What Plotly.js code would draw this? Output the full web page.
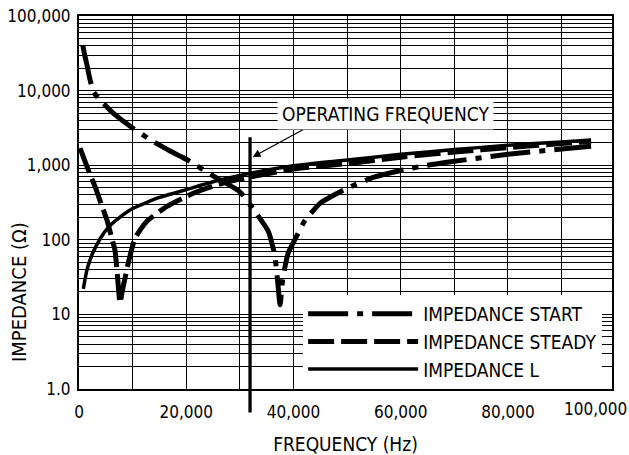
<!DOCTYPE html>
<html>
<head>
<meta charset="utf-8">
<script src="https://cdn.plot.ly/plotly-3.0.1.min.js"></script>
<style>html,body{margin:0;padding:0;background:#fff;}#chart{width:629px;height:455px;}</style>
</head>
<body>
<div id="chart"></div>
<script>
// ---- data ----
const freqStart = [700, 1000, 1500, 2000, 2700, 4500, 6500, 10000, 13500, 17000, 20000, 25000, 30000, 33000, 35300, 36500, 37000, 37500, 38000, 39000, 40600, 42000, 45000, 50000, 55000, 60000, 65000, 70000, 80000, 90000, 95500];
const impStart  = [40700, 31500, 21900, 14600, 9600, 6800, 4900, 3150, 2150, 1550, 1200, 720, 440, 230, 130, 62, 30, 13.5, 30, 66, 112, 175, 310, 490, 690, 850, 1000, 1130, 1400, 1650, 1800];

const freqSteady = [200, 1000, 2000, 3000, 4200, 5200, 6000, 6700, 7200, 7650, 8100, 9200, 10450, 12600, 16400, 21300, 25700, 30000, 40000, 50000, 60000, 70000, 80000, 90000, 95500];
const impSteady  = [1700, 1185, 774, 515, 293, 185, 113, 73, 31, 14.2, 21, 49, 105, 175, 280, 420, 545, 650, 890, 1050, 1280, 1500, 1720, 1950, 2080];

const freqL = [800, 1500, 2500, 4000, 5500, 7000, 10000, 15000, 20000, 25000, 30000, 40000, 50000, 60000, 70000, 80000, 90000, 95500];
const impL  = [22, 40, 65, 105, 148, 185, 262, 370, 470, 600, 730, 980, 1170, 1400, 1620, 1850, 2050, 2170];

const operatingFreq = 31900;
const arrowTip = {x: 32400, y: 1290};
const xTickVals = [0, 10000, 20000, 30000, 40000, 50000, 60000, 70000, 80000, 90000];
const xTickText = ['0', '', '20,000', '', '40,000', '', '60,000', '', '80,000', ''];

const FONT = 'DejaVu Sans Condensed, Liberation Sans Narrow, sans-serif';

const traces = [
  {x: freqStart, y: impStart, name: 'IMPEDANCE START', mode: 'lines',
   line: {color: '#000', width: 5, dash: '40px,9px,6px,9px', shape: 'spline', smoothing: 0.5}},
  {x: freqSteady, y: impSteady, name: 'IMPEDANCE STEADY', mode: 'lines',
   line: {color: '#000', width: 5, dash: '26px,7px', shape: 'spline', smoothing: 0.5}},
  {x: freqL, y: impL, name: 'IMPEDANCE L', mode: 'lines',
   line: {color: '#000', width: 3.5, shape: 'spline', smoothing: 0.5}}
];

const layout = {
  width: 629, height: 455,
  margin: {l: 79, r: 17, t: 16, b: 66},
  paper_bgcolor: '#fff', plot_bgcolor: '#fff',
  font: {family: FONT, size: 17, color: '#000'},
  showlegend: true,
  legend: {x: 0.4205, y: 0.2524, xanchor: 'left', yanchor: 'top', bgcolor: '#fff',
           borderwidth: 0, itemwidth: 110, font: {family: FONT, size: 19, color: '#000'},
           tracegroupgap: 0},
  xaxis: {range: [0, 99400], tickmode: 'array', tickvals: xTickVals, ticktext: xTickText,
          showgrid: true, gridcolor: '#000', gridwidth: 1, zeroline: false,
          showline: true, linecolor: '#000', linewidth: 2, mirror: true, ticks: '',
          ticklabelstandoff: 7, tickfont: {family: FONT, size: 17, color: '#000'},
          title: {text: 'FREQUENCY (Hz)', font: {family: FONT, size: 19, color: '#000'}, standoff: 20}},
  yaxis: {type: 'log', range: [0, 5], dtick: 1, tick0: 0, tickformat: ',d', labelalias: {'1': '1.0'},
          showgrid: true, gridcolor: '#000', gridwidth: 1, zeroline: false,
          showline: true, linecolor: '#000', linewidth: 2, mirror: true, ticks: '',
          ticklabelstandoff: 3, tickfont: {family: FONT, size: 17, color: '#000'},
          minor: {dtick: 'D1', showgrid: true, gridcolor: '#000', gridwidth: 1, ticks: ''}},
  shapes: [
    {type: 'line', xref: 'x', yref: 'paper', x0: operatingFreq, x1: operatingFreq, y0: -0.063, y1: 0.675,
     line: {color: '#000', width: 3.3}}
  ],
  annotations: [
    {xref: 'paper', yref: 'paper', x: (19 - 79) / 533, y: (389 - 292) / 373, xanchor: 'center', yanchor: 'middle',
     text: 'IMPEDANCE (\u03A9)', textangle: -90, showarrow: false, font: {family: FONT, size: 20, color: '#000'}},
    {xref: 'paper', yref: 'paper', x: (595 - 79) / 533, y: 0, xanchor: 'center', yanchor: 'top', yshift: -8,
     text: '100,000', showarrow: false, font: {family: FONT, size: 17, color: '#000'}},
    {xref: 'x', yref: 'y', x: arrowTip.x, y: Math.log10(arrowTip.y), ax: 59, ay: -32, text: '', showarrow: true,
     arrowhead: 2, arrowsize: 1.2, arrowwidth: 1.3, arrowcolor: '#000'},
    {xref: 'paper', yref: 'paper', x: (385 - 79) / 533, y: (389 - 114.5) / 373, xanchor: 'center', yanchor: 'middle',
     text: 'OPERATING FREQUENCY', showarrow: false, bgcolor: '#fff', borderpad: 4,
     font: {family: FONT, size: 19, color: '#000'}}
  ]
};

Plotly.newPlot('chart', traces, layout, {displayModeBar: false, staticPlot: true});
</script>
</body>
</html>
